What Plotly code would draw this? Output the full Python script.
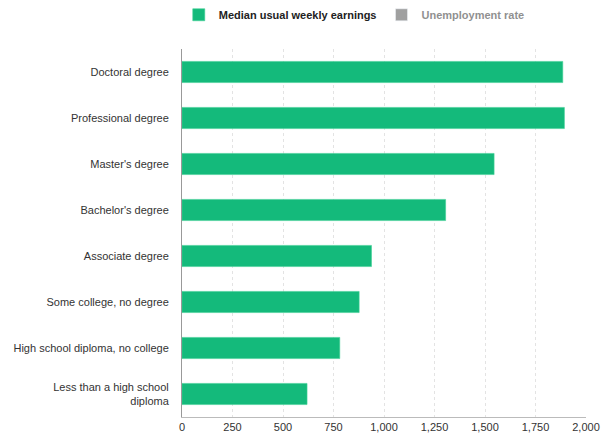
import plotly.graph_objects as go

categories = [
    "Doctoral degree",
    "Professional degree",
    "Master's degree",
    "Bachelor's degree",
    "Associate degree",
    "Some college, no degree",
    "High school diploma, no college",
    "Less than a high school<br>diploma",
]
weekly_earnings = [1885, 1893, 1545, 1305, 938, 877, 781, 619]
unemployment_rate = [2.5, 3.1, 4.1, 5.5, 7.1, 8.3, 9.0, 11.7]
x_ticks = [0, 250, 500, 750, 1000, 1250, 1500, 1750, 2000]
x_tick_labels = ["0", "250", "500", "750", "1,000", "1,250", "1,500", "1,750", "2,000"]

fig = go.Figure()
fig.add_trace(go.Bar(
    y=categories, x=weekly_earnings, orientation="h",
    name="<b>Median usual weekly earnings</b>",
    marker=dict(color="#14BA7B", line=dict(color="#3fd096", width=0.6)),
))
fig.add_trace(go.Bar(
    y=categories, x=unemployment_rate, orientation="h",
    name="<b>Unemployment rate</b>",
    marker=dict(color="#444444"),
    visible="legendonly",
))

fig.update_layout(
    width=601, height=441,
    margin=dict(l=182, r=15, t=49, b=24, autoexpand=False),
    paper_bgcolor="white", plot_bgcolor="white",
    barmode="overlay", bargap=0.54,
    font=dict(family="Liberation Sans, Arial, sans-serif", size=11, color="#333333"),
    legend=dict(
        orientation="h", x=-0.008, xanchor="left", y=1.093, yanchor="middle",
        font=dict(size=11, color="#222222"), itemwidth=30, traceorder="normal",
    ),
    xaxis=dict(
        range=[0, 2000], tickvals=x_ticks, ticktext=x_tick_labels,
        showgrid=True, gridcolor="#e3e3e3", griddash="dot", gridwidth=1,
        zeroline=False, showline=True, linecolor="#bbbbbb", linewidth=1,
        ticks="", tickfont=dict(size=11, color="#333333"), automargin=False,
    ),
    yaxis=dict(
        categoryorder="array", categoryarray=categories, autorange="reversed",
        showgrid=False, zeroline=False, showline=True, linecolor="#999999",
        linewidth=1, ticks="", ticklabelstandoff=10,
        tickfont=dict(size=11, color="#333333"), automargin=False,
    ),
)

fig.write_html("out.html")
